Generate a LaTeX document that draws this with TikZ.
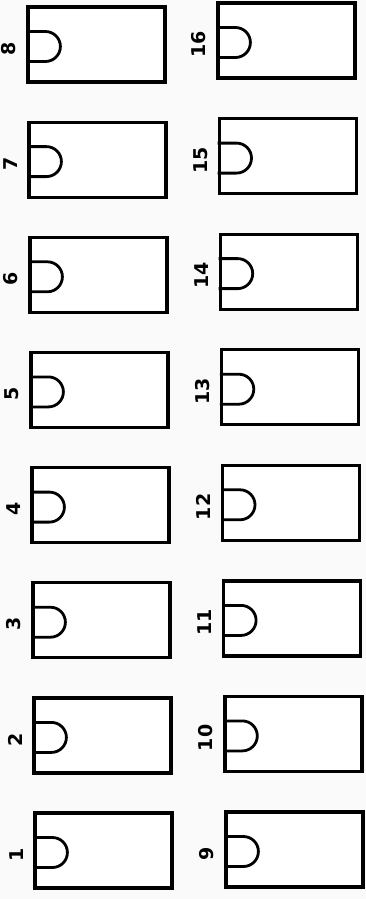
\documentclass[tikz,border=0pt]{standalone}
\usepackage{fontspec}
\usepackage{tikz}
\usetikzlibrary{positioning,calc}
\newfontfamily\numfont{DejaVu Sans}

\begin{document}
\begin{tikzpicture}[
  x=1pt, y=-1pt,
  every node/.style={align=center},
  slot/.style={draw=black, line width=3.2pt, minimum width=137pt, minimum height=75pt,
               inner sep=0pt, fill=white},
  tab/.style={draw=black, line width=2.8pt, line join=round},
  num/.style={font=\fontsize{19}{19}\selectfont\numfont\bfseries, rotate=90,
              anchor=south, inner sep=0pt},
]

\useasboundingbox[fill=black!2] (0,0) rectangle (366,899);

%% --- Left column: slots 1--8 ---
\node[slot] (b1) at (103.5,850.5) {};
\node[slot] (b2) at (102.5,735.4) {};
\node[slot] (b3) at (101.5,620.2) {};
\node[slot] (b4) at (100.5,505.1) {};
\node[slot] (b5) at ( 99.5,389.9) {};
\node[slot] (b6) at ( 98.5,274.8) {};
\node[slot] (b7) at ( 97.5,159.6) {};
\node[slot] (b8) at ( 96.5, 44.5) {};

%% --- Right column: slots 9--16 ---
\node[slot] (b9)  at (294.5,849.5) {};
\node[slot] (b10) at (293.4,733.9) {};
\node[slot] (b11) at (292.2,618.4) {};
\node[slot] (b12) at (291.1,502.8) {};
\node[slot] (b13) at (289.9,387.2) {};
\node[slot] (b14) at (288.8,271.6) {};
\node[slot] (b15) at (287.6,156.1) {};
\node[slot] (b16) at (286.5, 40.5) {};

%% --- Tabs on the left side of each slot ---
\foreach \b in {b1,b2,b3,b4,b5,b6,b7,b8,b9,b10,b11,b12,b13,b14,b15,b16}
  \draw[tab] ([yshift=13pt]\b.west) -- ++(19pt,0)
    arc[start angle=90, end angle=-90, radius=15pt] -- ++(-19pt,0);

%% --- Numbers ---
\node[num] (l1) at ([xshift=-10pt,yshift=-4pt]b1.west) {1};
\node[num] (l2) at ([xshift=-10pt,yshift=-4pt]b2.west) {2};
\node[num] (l3) at ([xshift=-10pt,yshift=-4pt]b3.west) {3};
\node[num] (l4) at ([xshift=-10pt,yshift=-4pt]b4.west) {4};
\node[num] (l5) at ([xshift=-10pt,yshift=-4pt]b5.west) {5};
\node[num] (l6) at ([xshift=-10pt,yshift=-4pt]b6.west) {6};
\node[num] (l7) at ([xshift=-10pt,yshift=-4pt]b7.west) {7};
\node[num] (l8) at ([xshift=-10pt,yshift=-4pt]b8.west) {8};
\node[num] (l9)  at ([xshift=-10pt,yshift=-4pt]b9.west)  {9};
\node[num] (l10) at ([xshift=-10pt,yshift=-4pt]b10.west) {10};
\node[num] (l11) at ([xshift=-10pt,yshift=-4pt]b11.west) {11};
\node[num] (l12) at ([xshift=-10pt,yshift=-4pt]b12.west) {12};
\node[num] (l13) at ([xshift=-10pt,yshift=-4pt]b13.west) {13};
\node[num] (l14) at ([xshift=-10pt,yshift=-4pt]b14.west) {14};
\node[num] (l15) at ([xshift=-10pt,yshift=-4pt]b15.west) {15};
\node[num] (l16) at ([xshift=-10pt,yshift=-4pt]b16.west) {16};

\end{tikzpicture}
\end{document}
